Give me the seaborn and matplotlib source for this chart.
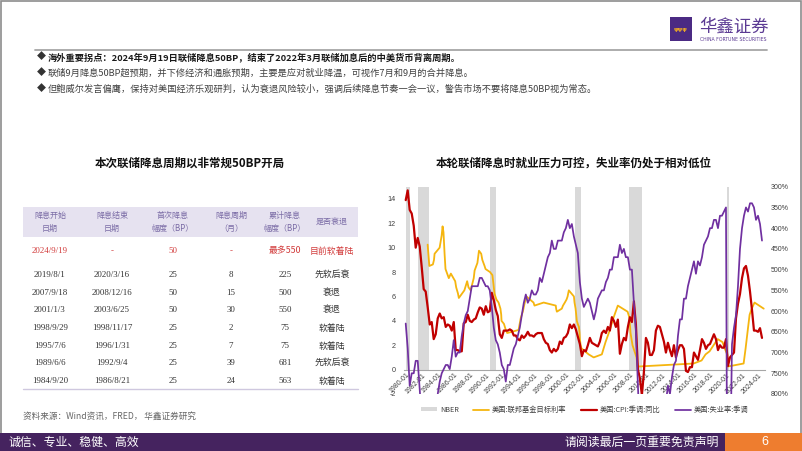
import numpy as np
import pandas as pd
import matplotlib
matplotlib.use("Agg")
import matplotlib.pyplot as plt
import matplotlib.dates as mdates
from matplotlib.patches import Rectangle, Patch
from matplotlib.lines import Line2D
import seaborn as sns

# ---------------- data ----------------
# US CPI YoY (%), sampled Jan/Apr/Jul/Oct from 1980-01
cpi_yoy = [
    13.9, 14.7, 13.1, 12.8,   # 1980
    11.8, 10.0, 10.8, 10.1,   # 1981
    8.4, 6.6, 6.4, 5.1,       # 1982
    3.7, 3.9, 2.5, 2.9,       # 1983
    4.2, 4.6, 4.2, 4.3,       # 1984
    3.5, 3.7, 3.6, 3.2,       # 1985
    3.9, 1.6, 1.6, 1.5,       # 1986
    1.5, 3.8, 3.9, 4.5,       # 1987
    4.0, 3.9, 4.1, 4.2,       # 1988
    4.7, 5.1, 5.0, 4.5,       # 1989
    5.2, 4.7, 4.8, 6.3,       # 1990
    5.7, 4.9, 4.4, 2.9,       # 1991
    2.6, 3.2, 3.2, 3.2,       # 1992
    3.3, 3.2, 2.8, 2.8,       # 1993
    2.5, 2.4, 2.8, 2.6,       # 1994
    2.8, 3.1, 2.8, 2.8,       # 1995
    2.7, 2.9, 3.0, 3.0,       # 1996
    3.0, 2.5, 2.2, 2.1,       # 1997
    1.6, 1.4, 1.7, 1.5,       # 1998
    1.7, 2.3, 2.1, 2.6,       # 1999
    2.7, 3.0, 3.7, 3.4,       # 2000
    3.7, 3.3, 2.7, 2.1,       # 2001
    1.1, 1.6, 1.5, 2.0,       # 2002
    2.6, 2.2, 2.1, 2.0,       # 2003
    1.9, 2.3, 3.0, 3.2,       # 2004
    3.0, 3.5, 3.2, 4.3,       # 2005
    4.0, 3.5, 4.1, 1.3,       # 2006
    2.1, 2.6, 2.4, 3.5,       # 2007
    4.3, 3.9, 5.6, 3.7,       # 2008
    0.0, -0.7, -2.1, -0.2,    # 2009
    2.6, 2.2, 1.2, 1.2,       # 2010
    1.6, 3.2, 3.6, 3.5,       # 2011
    2.9, 2.3, 1.4, 2.2,       # 2012
    1.6, 1.1, 2.0, 1.0,       # 2013
    1.6, 2.0, 2.0, 1.7,       # 2014
    -0.1, -0.2, 0.2, 0.2,     # 2015
    1.4, 1.1, 0.8, 1.6,       # 2016
    2.5, 2.2, 1.7, 2.0,       # 2017
    2.1, 2.5, 2.9, 2.5,       # 2018
    1.6, 2.0, 1.8, 1.8,       # 2019
    2.5, 0.3, 1.0, 1.2,       # 2020
    1.4, 4.2, 5.4, 6.2,       # 2021
    7.5, 8.3, 8.5, 7.7,       # 2022
    6.4, 4.9, 3.2, 3.2,       # 2023
    3.1, 3.4, 2.6,            # 2024
]

# US unemployment rate (%), sampled Jan/Apr/Jul/Oct from 1980-01
unemployment = [
    6.3, 6.9, 7.8, 7.5,
    7.5, 7.2, 7.2, 7.9,
    8.6, 9.3, 9.8, 10.4,
    10.4, 10.2, 9.4, 8.8,
    8.0, 7.7, 7.5, 7.4,
    7.3, 7.3, 7.4, 7.1,
    6.7, 7.1, 7.0, 7.0,
    6.6, 6.3, 6.1, 6.0,
    5.7, 5.4, 5.4, 5.4,
    5.4, 5.2, 5.2, 5.3,
    5.4, 5.4, 5.5, 5.9,
    6.4, 6.7, 6.8, 7.0,
    7.3, 7.4, 7.7, 7.3,
    7.3, 7.1, 6.9, 6.8,
    6.6, 6.4, 6.1, 5.8,
    5.6, 5.8, 5.7, 5.5,
    5.6, 5.6, 5.5, 5.2,
    5.3, 5.1, 4.9, 4.7,
    4.6, 4.3, 4.5, 4.5,
    4.3, 4.3, 4.3, 4.1,
    4.0, 3.8, 4.0, 3.9,
    4.2, 4.4, 4.6, 5.3,
    5.7, 5.9, 5.8, 5.7,
    5.8, 6.0, 6.2, 6.0,
    5.7, 5.6, 5.5, 5.5,
    5.3, 5.2, 5.0, 5.0,
    4.7, 4.7, 4.7, 4.4,
    4.6, 4.5, 4.7, 4.7,
    5.0, 5.0, 5.8, 6.5,
    7.8, 9.0, 9.5, 10.0,
    9.8, 9.9, 9.4, 9.4,
    9.1, 9.1, 9.0, 8.8,
    8.3, 8.2, 8.2, 7.8,
    8.0, 7.6, 7.3, 7.2,
    6.6, 6.2, 6.2, 5.7,
    5.7, 5.4, 5.2, 5.0,
    4.8, 5.1, 4.8, 4.9,
    4.7, 4.4, 4.3, 4.2,
    4.0, 4.0, 3.8, 3.8,
    4.0, 3.7, 3.7, 3.6,
    3.5, 14.8, 10.2, 6.8,
    6.4, 6.1, 5.4, 4.5,
    4.0, 3.7, 3.5, 3.6,
    3.4, 3.4, 3.5, 3.8,
    3.7, 3.9, 4.3,
]

# Fed funds target rate (%), at each change date
ff_dates = [
    "1982-09-27", "1982-12-14", "1983-05-25", "1983-07-14", "1983-08-10", "1984-03-27",
    "1984-06-28", "1984-08-09", "1984-09-20", "1984-11-08", "1984-12-20", "1985-05-20",
    "1985-08-21", "1986-03-07", "1986-04-21", "1986-07-11", "1986-08-21", "1987-04-30",
    "1987-09-04", "1987-11-04", "1988-02-11", "1988-06-30", "1988-08-09", "1988-12-15",
    "1989-02-24", "1989-06-06", "1989-07-27", "1989-11-06", "1989-12-20", "1990-07-13",
    "1990-10-29", "1990-12-18", "1991-02-01", "1991-04-30", "1991-08-06", "1991-10-31",
    "1991-12-06", "1991-12-20", "1992-04-09", "1992-07-02", "1992-09-04", "1994-02-04",
    "1994-05-17", "1994-08-16", "1994-11-15", "1995-02-01", "1995-07-06", "1995-12-19",
    "1996-01-31", "1997-03-25", "1998-09-29", "1998-10-15", "1998-11-17", "1999-06-30",
    "1999-08-24", "1999-11-16", "2000-02-02", "2000-03-21", "2000-05-16", "2001-01-03",
    "2001-01-31", "2001-03-20", "2001-04-18", "2001-05-15", "2001-06-27", "2001-08-21",
    "2001-09-17", "2001-10-02", "2001-11-06", "2001-12-11", "2002-11-06", "2003-06-25",
    "2004-06-30", "2004-12-14", "2005-06-30", "2005-12-13", "2006-06-29", "2007-09-18",
    "2007-12-11", "2008-01-30", "2008-04-30", "2008-10-29", "2008-12-16", "2015-12-16",
    "2016-12-14", "2017-06-14", "2017-12-13", "2018-06-13", "2018-12-19", "2019-07-31",
    "2019-10-30", "2020-03-03", "2020-03-15", "2022-03-16", "2022-06-15", "2022-09-21",
    "2022-12-14", "2023-03-22", "2023-07-26", "2024-09-18",
]
ff_values = [
    10.25, 8.5, 8.625, 9.0, 9.5, 10.0,
    11.0, 11.75, 11.25, 9.5, 8.25, 7.5,
    7.875, 7.25, 6.75, 6.25, 5.875, 6.5,
    7.25, 6.75, 6.5, 7.5, 8.125, 8.75,
    9.75, 9.5, 9.0, 8.5, 8.25, 8.0,
    7.75, 7.0, 6.25, 5.75, 5.5, 5.0,
    4.5, 4.0, 3.75, 3.25, 3.0, 3.25,
    4.25, 4.75, 5.5, 6.0, 5.75, 5.5,
    5.25, 5.5, 5.25, 5.0, 4.75, 5.0,
    5.25, 5.5, 5.75, 6.0, 6.5, 6.0,
    5.5, 5.0, 4.5, 4.0, 3.75, 3.5,
    3.0, 2.5, 2.0, 1.75, 1.25, 1.0,
    1.25, 2.25, 3.25, 4.25, 5.25, 4.75,
    4.25, 3.0, 2.0, 1.0, 0.25, 0.5,
    0.75, 1.25, 1.5, 2.0, 2.5, 2.25,
    1.75, 1.25, 0.25, 0.5, 1.75, 3.25,
    4.5, 5.0, 5.5, 5.0,
]

nber_start = ["1980-01-01", "1981-07-01", "1990-07-01", "2001-03-01", "2007-12-01", "2020-02-01"]
nber_end = ["1980-07-31", "1982-11-30", "1991-03-31", "2001-11-30", "2009-06-30", "2020-04-30"]

table_header = ["降息开始\n日期", "降息结束\n日期", "首次降息\n幅度（BP）", "降息周期\n（月）", "累计降息\n幅度（BP）", "是否衰退"]
col_start = ["2024/9/19", "2019/8/1", "2007/9/18", "2001/1/3", "1998/9/29", "1995/7/6", "1989/6/6", "1984/9/20"]
col_end = ["-", "2020/3/16", "2008/12/16", "2003/6/25", "1998/11/17", "1996/1/31", "1992/9/4", "1986/8/21"]
col_first = ["50", "25", "50", "50", "25", "25", "25", "25"]
col_months = ["-", "8", "15", "30", "2", "7", "39", "24"]
col_total = ["最多550", "225", "500", "550", "75", "75", "681", "563"]
col_recession = ["目前软着陆", "先软后衰", "衰退", "衰退", "软着陆", "软着陆", "先软后衰", "软着陆"]

bullets = [
    "海外重要拐点：2024年9月19日联储降息50BP，结束了2022年3月联储加息后的中美货币背离周期。",
    "联储9月降息50BP超预期，并下修经济和通胀预期，主要是应对就业降温，可视作7月和9月的合并降息。",
    "但鲍威尔发言偏鹰，保持对美国经济乐观研判，认为衰退风险较小，强调后续降息节奏一会一议，警告市场不要将降息50BP视为常态。",
]

# ---------------- style ----------------
sns.set_theme(style="white")
CJK = ["Noto Sans CJK SC", "DejaVu Sans"]
plt.rcParams["font.family"] = CJK
plt.rcParams["axes.unicode_minus"] = False

W, H = 802, 451
fig = plt.figure(figsize=(W / 100, H / 100), dpi=100)
fig.patch.set_facecolor("white")


def fx(x):
    return x / W


def fy(y):
    return 1 - y / H


# slide frame
fig.add_artist(Rectangle((0.0015, 0.0), 0.997, 0.997, transform=fig.transFigure,
                         fill=False, edgecolor="#8c8c8c", lw=1.2))

# header line
fig.add_artist(Line2D([fx(35), fx(767)], [fy(50), fy(50)], transform=fig.transFigure,
                      color="#a6a6a6", lw=1.3))

# logo
fig.add_artist(Rectangle((fx(670), fy(41)), 22 / W, 24 / H, transform=fig.transFigure,
                         color="#4b2a83", lw=0))
fig.text(fx(681), fy(30), "ψψψ", color="#e8a628", fontsize=4.2, ha="center", va="center",
         family=["DejaVu Sans"], fontweight="bold")
fig.text(fx(699), fy(27), "华鑫证券", color="#5b3a93", fontsize=12.5, ha="left", va="center",
         family=CJK)
fig.text(fx(700), fy(39.5), "CHINA FORTUNE SECURITIES", color="#5b3a93", fontsize=3.3,
         ha="left", va="center", family=["DejaVu Sans"])

# bullets
for i, (t, yy) in enumerate(zip(bullets, [57, 73, 89])):
    fig.text(fx(37), fy(yy), "◆", fontsize=6.5, ha="left", va="center",
             color="#333333", family=CJK)
    fig.text(fx(47.5), fy(yy), t, fontsize=6.65, ha="left", va="center",
             color="#1a1a1a" if i == 0 else "#404040",
             fontweight="bold" if i == 0 else "normal", family=CJK)

# titles
fig.text(fx(190), fy(163), "本次联储降息周期以非常规50BP开局", fontsize=8.3,
         fontweight="bold", ha="center", va="center", color="#111111", family=CJK)
fig.text(fx(574), fy(163), "本轮联储降息时就业压力可控，失业率仍处于相对低位", fontsize=8.3,
         fontweight="bold", ha="center", va="center", color="#111111", family=CJK)

# ---------------- table ----------------
fig.add_artist(Rectangle((fx(23), fy(237)), 335 / W, 30 / H, transform=fig.transFigure,
                         color="#e6e2f0", lw=0))
col_x = [50, 112, 173, 231, 285, 332]
for cx, h in zip(col_x, table_header):
    fig.text(fx(cx), fy(222), h, fontsize=5.8, ha="center", va="center",
             color="#7b6ca6", linespacing=1.55, family=CJK)

row_y = [251, 275, 293, 310, 328, 346, 363, 381]
SERIF = ["Liberation Serif", "DejaVu Serif"]
for r in range(len(col_start)):
    color = "#d23c3c" if r == 0 else "#333333"
    cells = [col_start[r], col_end[r], col_first[r], col_months[r], col_total[r], col_recession[r]]
    for c, (cx, txt) in enumerate(zip(col_x, cells)):
        fam = CJK if c == 5 or (c == 4 and r == 0) else SERIF
        fig.text(fx(cx), fy(row_y[r]), txt, fontsize=6.4, ha="center", va="center",
                 color=color, family=fam)
fig.add_artist(Line2D([fx(23), fx(358)], [fy(389), fy(389)], transform=fig.transFigure,
                      color="#cfc8df", lw=1.0))
fig.text(fx(23), fy(416), "资料来源：Wind资讯，FRED， 华鑫证券研究", fontsize=6.2,
         ha="left", va="center", color="#666666", family=CJK)

# ---------------- chart ----------------
q_dates = pd.date_range("1980-01-01", periods=len(cpi_yoy), freq="QS")
df_q = pd.DataFrame({"date": q_dates, "cpi": cpi_yoy, "unemp": unemployment})
df_ff = pd.DataFrame({"date": pd.to_datetime(ff_dates), "ff": ff_values})

ax = fig.add_axes([fx(404), fy(394), (765 - 404) / W, (394 - 186.7) / H])
ax.set_facecolor("none")
ax.set_xlim(pd.Timestamp("1979-10-15"), pd.Timestamp("2024-11-15"))
ax.set_ylim(-2, 15)

for s, e in zip(nber_start, nber_end):
    ax.fill_between([pd.Timestamp(s), pd.Timestamp(e)], 0, 15, color="#d9d9d9", lw=0, zorder=0)

sns.lineplot(data=df_ff, x="date", y="ff", ax=ax, color="#f5b50f", linewidth=1.3,
             legend=False, zorder=2)
sns.lineplot(data=df_q, x="date", y="cpi", ax=ax, color="#c00000", linewidth=1.6,
             legend=False, zorder=3)

ax2 = ax.twinx()
sns.lineplot(data=df_q, x="date", y="unemp", ax=ax2, color="#7030a0", linewidth=1.25,
             legend=False, zorder=4)
ax2.set_ylim(8, 3)
ax2.set_xlim(pd.Timestamp("1979-10-15"), pd.Timestamp("2024-11-15"))

for a in (ax, ax2):
    a.set_xlabel("")
    a.set_ylabel("")
    for sp in a.spines.values():
        sp.set_visible(False)

ax.spines["bottom"].set_visible(True)
ax.spines["bottom"].set_position(("data", 0))
ax.spines["bottom"].set_color("#a6a6a6")
ax.spines["bottom"].set_linewidth(0.8)

ax.set_xticks([pd.Timestamp(f"{y}-01-01") for y in range(1980, 2025, 2)])
ax.xaxis.set_major_formatter(mdates.DateFormatter("%Y-%m"))
ax.tick_params(axis="x", length=0, pad=1.5, labelsize=5.0, labelcolor="#404040")
for lab in ax.get_xticklabels():
    lab.set_rotation(45)
    lab.set_ha("right")
    lab.set_rotation_mode("anchor")
    lab.set_family(["Liberation Sans", "DejaVu Sans"])

ax.set_yticks(list(range(-2, 15, 2)))
ax.set_yticklabels([str(v) for v in range(-2, 15, 2)])
ax.tick_params(axis="y", length=0, pad=6, labelsize=5.2, labelcolor="#404040")
for lab in ax.get_yticklabels():
    lab.set_family(["Liberation Sans", "DejaVu Sans"])

r_ticks = [3.0, 3.5, 4.0, 4.5, 5.0, 5.5, 6.0, 6.5, 7.0, 7.5, 8.0]
ax2.set_yticks(r_ticks)
ax2.set_yticklabels([f"{v * 100:.0f}%" for v in r_ticks])
ax2.tick_params(axis="y", length=0, pad=4, labelsize=5.0, labelcolor="#404040")
for lab in ax2.get_yticklabels():
    lab.set_family(["Liberation Sans", "DejaVu Sans"])
ax2.grid(False)
ax.grid(False)

handles = [
    Patch(facecolor="#d9d9d9", edgecolor="none", label="NBER"),
    Line2D([], [], color="#f5b50f", lw=1.3, label="美国:联邦基金目标利率"),
    Line2D([], [], color="#c00000", lw=1.6, label="美国:CPI:季调:同比"),
    Line2D([], [], color="#7030a0", lw=1.25, label="美国:失业率:季调"),
]
fig.legend(handles=handles, loc="center", bbox_to_anchor=(fx(585), fy(410)), ncol=4,
           frameon=False, fontsize=5.2, handlelength=2.2, handleheight=0.5,
           columnspacing=2.0, handletextpad=0.4, labelcolor="#404040")

# ---------------- footer ----------------
fig.add_artist(Rectangle((0, 0), 1, 18.5 / H, transform=fig.transFigure, color="#45235f", lw=0))
fig.add_artist(Rectangle((fx(725), 0), 77 / W, 18.5 / H, transform=fig.transFigure,
                         color="#ee7d2f", lw=0))
fig.text(fx(8), fy(442), "诚信、专业、稳健、高效", fontsize=8.6, color="white",
         ha="left", va="center", family=CJK)
fig.text(fx(719), fy(442), "请阅读最后一页重要免责声明", fontsize=8.6, color="white",
         ha="right", va="center", family=CJK)
fig.text(fx(765), fy(442), "6", fontsize=9, color="white", ha="center", va="center",
         family=["Liberation Sans", "DejaVu Sans"])

fig.savefig("out.png", dpi=100, facecolor="white")
